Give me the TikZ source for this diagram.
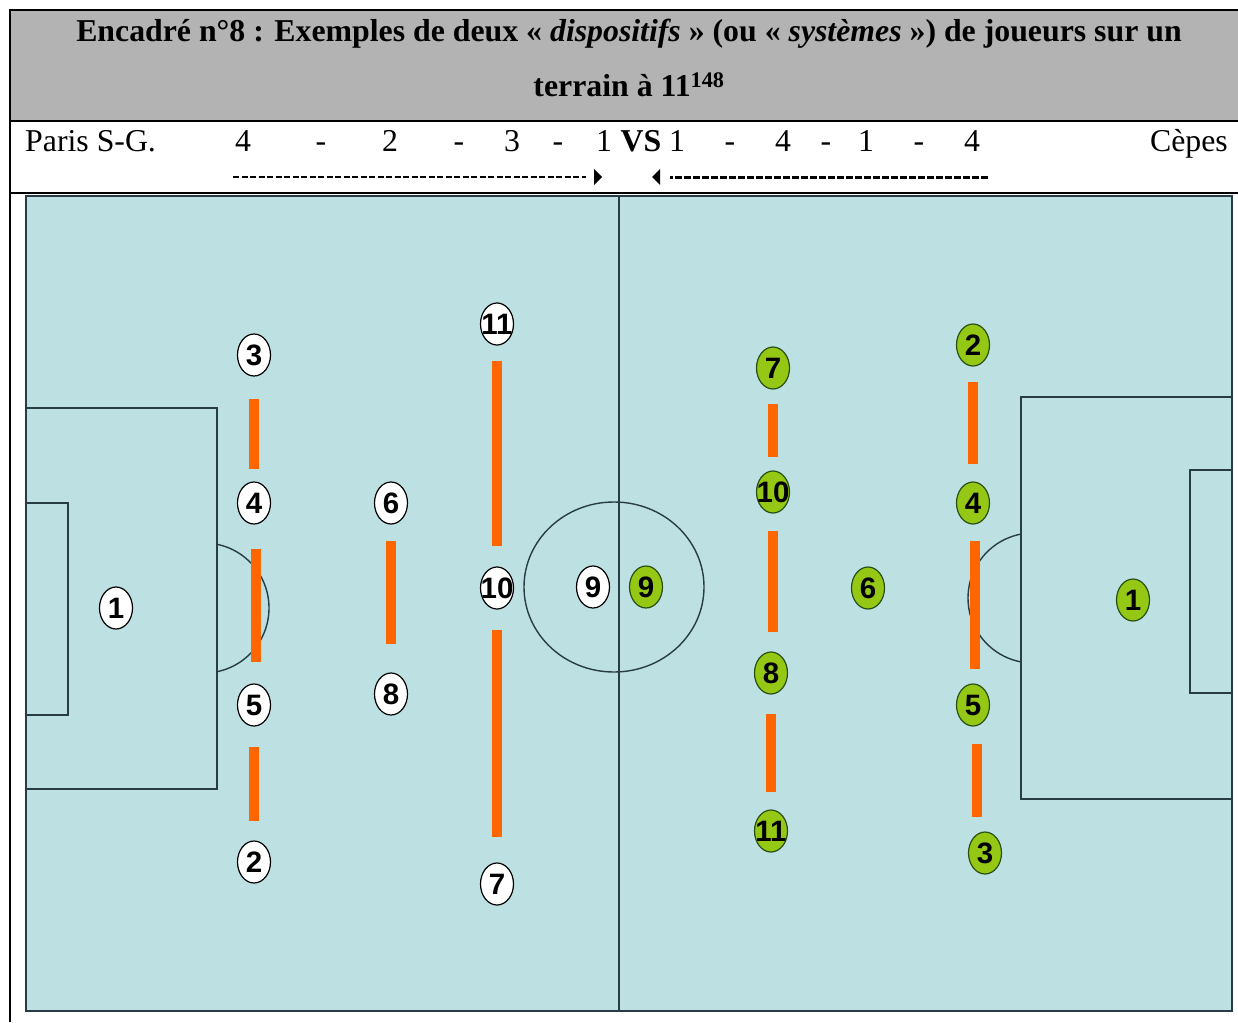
\documentclass[tikz,border=0pt]{standalone}
\usepackage{fontspec}
\setmainfont{Liberation Serif}
\newfontfamily\numfont{Liberation Sans}
\usepackage{tikz}
\usetikzlibrary{shapes.geometric}

\definecolor{fieldblue}{RGB}{189,224,227}
\definecolor{headgray}{RGB}{179,179,179}
\definecolor{barorange}{RGB}{255,102,0}
\definecolor{cepgreen}{RGB}{148,200,20}
\definecolor{cepdark}{RGB}{40,80,20}
\definecolor{pitchline}{RGB}{40,60,70}

\newcommand{\pn}[1]{\makebox[0pt]{#1}}

\begin{document}
\begin{tikzpicture}[x=1pt,y=-1pt,
    psg/.style={ellipse, draw=black, line width=1.2pt, fill=white,
        minimum width=33pt, minimum height=42pt, inner sep=0pt,
        font=\numfont\bfseries\fontsize{29.5}{29.5}\selectfont},
    cep/.style={psg, fill=cepgreen, draw=cepdark},
    bar/.style={draw=barorange, line width=10pt},
    pitch/.style={draw=pitchline, line width=1.4pt},
    rowtxt/.style={anchor=base, inner sep=0pt, font=\fontsize{31.8}{36}\selectfont},
    frame/.style={line width=2.6pt}]

    \useasboundingbox (0,0) rectangle (1238,1022);

    % header
    \fill[headgray] (10,10) rectangle (1238,121);
    \node[rowtxt] (title1) at (629,42)
        {\bfseries Encadré n°8 : Exemples de deux « \textit{dispositifs} » (ou « \textit{systèmes} ») de joueurs sur un};
    \node[rowtxt] (title2) at (629,97)
        {\bfseries terrain à 11\textsuperscript{148}};

    % formations
    \node[rowtxt, anchor=base west] (paris) at (25,151) {Paris S-G.};
    \node[rowtxt, anchor=base east] (cepes) at (1228,151) {Cèpes};
    \foreach \x/\t [count=\i] in {243/4, 321/-, 390/2, 459/-, 512/3, 558/-, 604/1,
        677/1, 730/-, 783/4, 826/-, 866/1, 919/-, 972/4}
        \node[rowtxt] (f\i) at (\x,151) {\t};
    \node[rowtxt] (vs) at (641,151) {\bfseries VS};

    \coordinate (psgA) at (233,177);
    \coordinate (psgB) at (586,177);
    \coordinate (cepA) at (988,177);
    \coordinate (cepB) at (670,177);
    \draw[line width=1.4pt, dash pattern=on 6pt off 2.5pt] (psgA) -- (psgB);
    \draw[line width=3pt, dash pattern=on 7pt off 2pt] (cepA) -- (cepB);
    \fill (594,169) -- (602,177) -- (594,185) -- cycle;
    \fill (660,169) -- (652,177) -- (660,185) -- cycle;

    % field
    \fill[fieldblue] (26,196) rectangle (1232,1011);
    \draw[pitch] (26,196) rectangle (1232,1011);
    \draw[pitch] (619,196) -- (619,1011);
    \draw[pitch] (614,587) ellipse [x radius=90pt, y radius=85pt];

    \draw[pitch] (26,408) rectangle (217,789);
    \draw[pitch] (26,503) rectangle (68,715);
    \begin{scope}
        \clip (217,500) rectangle (300,720);
        \draw[pitch] (204,608) circle [radius=65pt];
    \end{scope}

    \draw[pitch] (1021,397) rectangle (1232,799);
    \draw[pitch] (1190,470) rectangle (1232,693);
    \begin{scope}
        \clip (940,500) rectangle (1021,700);
        \draw[pitch] (1033,598) circle [radius=65pt];
    \end{scope}

    % Paris S-G.
    \node[psg] (p1) at (116,608) {\pn{1}};
    \node[psg] (p3) at (254,355) {\pn{3}};
    \node[psg] (p4) at (254,503) {\pn{4}};
    \node[psg] (p5) at (254,705) {\pn{5}};
    \node[psg] (p2) at (254,862) {\pn{2}};
    \node[psg] (p6) at (391,503) {\pn{6}};
    \node[psg] (p8) at (391,694) {\pn{8}};
    \node[psg] (p11) at (497,324) {\pn{11}};
    \node[psg] (p10) at (497,588) {\pn{10}};
    \node[psg] (p7) at (497,884) {\pn{7}};
    \node[psg] (p9) at (593,587) {\pn{9}};

    % Cepes
    \node[cep] (c9) at (646,587) {\pn{9}};
    \node[cep] (c7) at (773,368) {\pn{7}};
    \node[cep] (c10) at (773,492) {\pn{10}};
    \node[cep] (c8) at (771,673) {\pn{8}};
    \node[cep] (c11) at (771,831) {\pn{11}};
    \node[cep] (c6) at (868,588) {\pn{6}};
    \node[cep] (c2) at (973,345) {\pn{2}};
    \node[cep] (c4) at (973,503) {\pn{4}};
    \node[cep] (c5) at (973,705) {\pn{5}};
    \node[cep] (c3) at (985,853) {\pn{3}};
    \node[cep] (c1) at (1133,600) {\pn{1}};

    % lines of players
    \draw[bar, shorten <=22pt, shorten >=12pt] (p3.south) -- (p3.south |- p4.north);
    \draw[bar, shorten <=24pt, shorten >=21pt] ([xshift=2pt]p4.south) -- ([xshift=2pt]p4.south |- p5.north);
    \draw[bar, shorten <=20pt, shorten >=19pt] (p5.south) -- (p5.south |- p2.north);
    \draw[bar, shorten <=16pt, shorten >=28pt] (p6.south) -- (p6.south |- p8.north);
    \draw[bar, shorten <=15pt, shorten >=20pt] (p11.south) -- (p11.south |- p10.north);
    \draw[bar, shorten <=20pt, shorten >=25pt] (p10.south) -- (p10.south |- p7.north);

    \draw[bar, shorten <=14pt, shorten >=13pt] (c7.south) -- (c7.south |- c10.north);
    \draw[bar, shorten <=17pt, shorten >=19pt] (c10.south) -- (c10.south |- c8.north);
    \draw[bar, shorten <=19pt, shorten >=17pt] (c8.south) -- (c8.south |- c11.north);
    \draw[bar, shorten <=15pt, shorten >=17pt] (c2.south) -- (c2.south |- c4.north);
    \draw[bar, shorten <=16pt, shorten >=14pt] ([xshift=2pt]c4.south) -- ([xshift=2pt]c4.south |- c5.north);
    \draw[bar, shorten <=17pt, shorten >=14pt] ([xshift=4pt]c5.south) -- ([xshift=4pt]c5.south |- c3.north);

    % table frame
    \draw[frame] (10,10) -- (1238,10);
    \draw[frame] (10,121) -- (1238,121);
    \draw[frame] (10,193) -- (1238,193);
    \draw[frame] (10,8.7) -- (10,1022);

\end{tikzpicture}
\end{document}
